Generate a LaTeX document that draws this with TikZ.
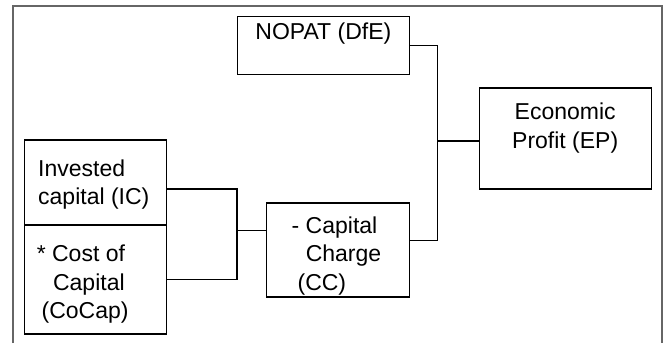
\documentclass[tikz,border=0pt]{standalone}
\usepackage{fontspec}
\setmainfont{Liberation Sans}
\usetikzlibrary{calc}

\begin{document}
\begin{tikzpicture}[x=1pt,y=-1pt,
  box/.style={draw,line width=1.2pt,inner sep=0pt,outer sep=0pt,anchor=north west},
  lbl/.style={inner sep=0pt,font=\fontsize{23}{28.5}\selectfont},
  wire/.style={line width=1.2pt}]
\useasboundingbox (0,0) rectangle (663,343);
\draw[line width=2pt,black!60] (12.5,343) -- (12.5,6) -- (661.5,6) -- (661.5,343);
% boxes
\node[box,minimum width=171.8pt,minimum height=57.6pt] (nopat) at (237.5,16.7) {};
\node[box,minimum width=172.2pt,minimum height=101pt] (ep) at (479.3,88) {};
\node[box,minimum width=142.5pt,minimum height=85pt] (ic) at (24.2,140) {};
\node[box,minimum width=142.5pt,minimum height=109pt] (cocap) at (24.2,225) {};
\node[box,minimum width=142.3pt,minimum height=94pt] (cc) at (266.8,203) {};
% texts
\node[lbl,anchor=north] (nopattxt) at (323.4,22.7) {NOPAT (DfE)};
\node[lbl,anchor=north,align=center] (eptxt) at (565.2,103.1) {Economic\\Profit (EP)};
\node[lbl,anchor=north west,align=left] (ictxt) at (38,159.4) {Invested\\capital (IC)};
\node[lbl,anchor=north west,align=left] (cocaptxt) at (36.6,245.1)
  {* Cost of\\\hspace*{16.3pt}Capital\\\hspace*{4.8pt}(CoCap)};
\node[lbl,anchor=north west,align=left] (cctxt) at (291.5,216.4)
  {- Capital\\\hspace*{14.1pt}Charge\\\hspace*{5.9pt}(CC)};
% connectors
\coordinate (jl) at (237,230.7);
\coordinate (jr) at (437.5,141);
\draw[wire] ([yshift=-6.5pt]ic.east) -| (jl) |- (cocap.east);
\draw[wire] (jl) -- (jl -| cc.west);
\draw[wire] (nopat.east) -| (jr) |- ([yshift=9.3pt]cc.east);
\draw[wire] (jr) -- (jr -| ep.west);
\end{tikzpicture}
\end{document}
